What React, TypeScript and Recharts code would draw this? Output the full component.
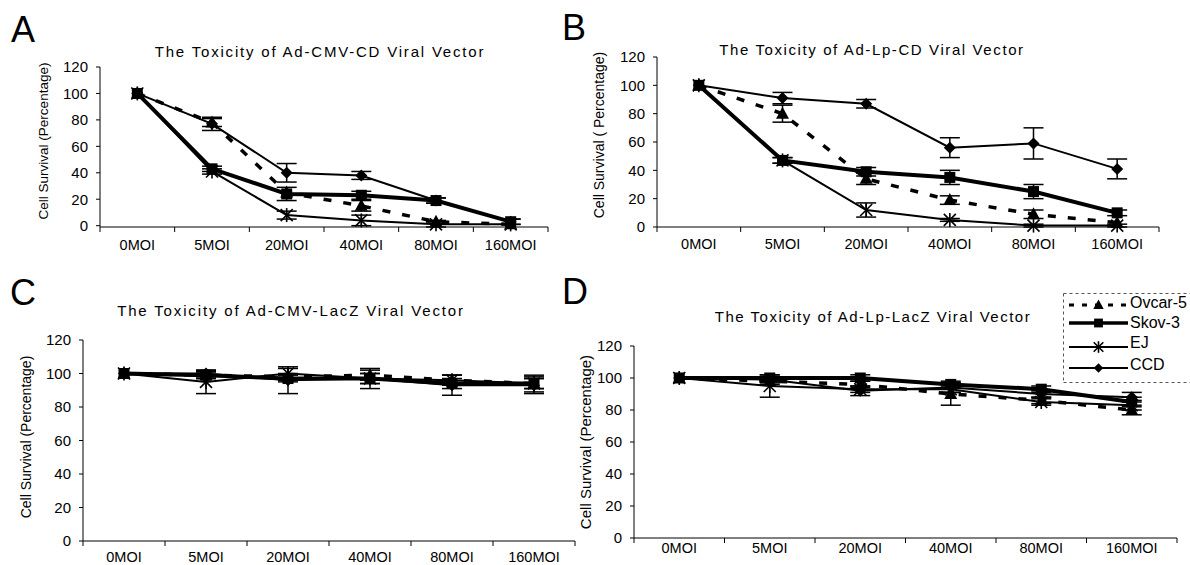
import React from 'react';
import { LineChart, Line, XAxis, YAxis, ErrorBar, Legend } from 'recharts';

const FONT = '"Liberation Sans", Arial, Helvetica, sans-serif';

const categories = ['0MOI', '5MOI', '20MOI', '40MOI', '80MOI', '160MOI'];
const yTicks = [0, 20, 40, 60, 80, 100, 120];

// Panel A: Ad-CMV-CD
const aOvcar = [100, 78, 25, 15, 3, 1];
const aOvcarErr = [0, 3, 0, 4, 1, 0];
const aSkov = [100, 43, 24, 23, 19, 3];
const aSkovErr = [0, 2, 5, 3, 2, 2];
const aEJ = [100, 41, 8, 4, 1, 1];
const aEJErr = [0, 2, 3, 4, 2, 0];
const aCCD = [100, 77, 40, 38, 19, 3];
const aCCDErr = [0, 5, 7, 3, 2, 2];

// Panel B: Ad-Lp-CD
const bOvcar = [100, 80, 34, 19, 9, 3];
const bOvcarErr = [0, 6, 4, 3, 3, 0];
const bSkov = [100, 47, 39, 35, 25, 10];
const bSkovErr = [0, 2, 3, 5, 5, 2];
const bEJ = [100, 47, 12, 5, 1, 1];
const bEJErr = [0, 2, 5, 1, 1, 1];
const bCCD = [100, 91, 87, 56, 59, 41];
const bCCDErr = [0, 4, 3, 7, 11, 7];

// Panel C: Ad-CMV-LacZ
const cOvcar = [100, 99, 98, 99, 96, 94];
const cOvcarErr = [0, 2, 2, 3, 3, 3];
const cSkov = [100, 99, 97, 97, 94, 94];
const cSkovErr = [0, 2, 2, 3, 3, 5];
const cEJ = [100, 95, 100, 97, 96, 94];
const cEJErr = [0, 7, 3, 3, 3, 3];
const cCCD = [100, 100, 96, 97, 93, 93];
const cCCDErr = [0, 2, 8, 6, 6, 5];

// Panel D: Ad-Lp-LacZ
const dOvcar = [100, 98, 96, 90, 86, 80];
const dOvcarErr = [0, 2, 2, 7, 2, 3];
const dSkov = [100, 100, 100, 96, 93, 85];
const dSkovErr = [0, 2, 2, 2, 2, 3];
const dEJ = [100, 95, 93, 93, 85, 83];
const dEJErr = [0, 7, 2, 2, 2, 3];
const dCCD = [100, 99, 92, 94, 90, 88];
const dCCDErr = [0, 2, 3, 3, 2, 3];

const SERIES = [
  { key: 'ovcar', name: 'Ovcar-5', width: 3.5, dash: '8 12', dot: 'triangle' },
  { key: 'ej', name: 'EJ', width: 2, dash: undefined, dot: 'star' },
  { key: 'ccd', name: 'CCD', width: 2, dash: undefined, dot: 'diamond' },
  { key: 'skov', name: 'Skov-3', width: 4, dash: undefined, dot: 'square' },
];
const LEGEND_ORDER = ['ovcar', 'skov', 'ej', 'ccd'];

function panelData(ov: number[], ovE: number[], sk: number[], skE: number[], ej: number[], ejE: number[], cd: number[], cdE: number[]) {
  return categories.map((cat, i) => ({
    cat,
    ovcar: ov[i], ovcarErr: ovE[i],
    skov: sk[i], skovErr: skE[i],
    ej: ej[i], ejErr: ejE[i],
    ccd: cd[i], ccdErr: cdE[i],
  }));
}

const dataA = panelData(aOvcar, aOvcarErr, aSkov, aSkovErr, aEJ, aEJErr, aCCD, aCCDErr);
const dataB = panelData(bOvcar, bOvcarErr, bSkov, bSkovErr, bEJ, bEJErr, bCCD, bCCDErr);
const dataC = panelData(cOvcar, cOvcarErr, cSkov, cSkovErr, cEJ, cEJErr, cCCD, cCCDErr);
const dataD = panelData(dOvcar, dOvcarErr, dSkov, dSkovErr, dEJ, dEJErr, dCCD, dCCDErr);

function drawMarker(shape: string, cx: number, cy: number, key: string, s = 1) {
  if (cx == null || cy == null || isNaN(cx) || isNaN(cy)) return <g key={key} />;
  switch (shape) {
    case 'triangle':
      return (
        <polygon key={key} fill="#000"
          points={`${cx},${cy - 7 * s} ${cx - 6.5 * s},${cy + 5 * s} ${cx + 6.5 * s},${cy + 5 * s}`} />
      );
    case 'square':
      return <rect key={key} x={cx - 5.5 * s} y={cy - 5.5 * s} width={11 * s} height={11 * s} fill="#000" />;
    case 'diamond':
      return (
        <polygon key={key} fill="#000"
          points={`${cx},${cy - 6 * s} ${cx + 6 * s},${cy} ${cx},${cy + 6 * s} ${cx - 6 * s},${cy}`} />
      );
    default: {
      const r = 6 * s;
      return (
        <g key={key} stroke="#000" strokeWidth={1.6}>
          <line x1={cx - r} y1={cy - r} x2={cx + r} y2={cy + r} />
          <line x1={cx - r} y1={cy + r} x2={cx + r} y2={cy - r} />
          <line x1={cx} y1={cy - r - 1} x2={cx} y2={cy + r + 1} />
        </g>
      );
    }
  }
}

function makeXTick(bw: number, labelDy: number) {
  return (props: any) => {
    const { x, y, payload } = props;
    const idx = payload && payload.index != null ? payload.index : props.index;
    return (
      <g>
        <line x1={x - bw / 2} x2={x - bw / 2} y1={y} y2={y + 5} stroke="#000" strokeWidth={1} />
        {idx === categories.length - 1 ? (
          <line x1={x + bw / 2} x2={x + bw / 2} y1={y} y2={y + 5} stroke="#000" strokeWidth={1} />
        ) : null}
        <text x={x} y={y + labelDy} textAnchor="middle" dominantBaseline="central"
          fontSize={14.5} fontFamily={FONT} fill="#000">
          {payload.value}
        </text>
      </g>
    );
  };
}

const legendRows: Record<string, { line: number; text: number }> = {
  ovcar: { line: 12, text: 9 },
  skov: { line: 30, text: 29 },
  ej: { line: 54, text: 49 },
  ccd: { line: 75, text: 71 },
};

const LegendBox = () => (
  <svg width={130} height={92} style={{ display: 'block', overflow: 'visible' }}>
    <path d="M0.5,0.5 L0.5,89.5 M0.5,0.5 L130,0.5 M0.5,89.5 L130,89.5" stroke="#555"
      strokeDasharray="3 3" strokeWidth={1} fill="none" />
    {LEGEND_ORDER.map((k) => {
      const s = SERIES.find((q) => q.key === k)!;
      const r = legendRows[k];
      return (
        <g key={k}>
          <line x1={6} x2={65} y1={r.line} y2={r.line} stroke="#000"
            strokeWidth={k === 'ovcar' ? 3 : s.width === 4 ? 3.5 : 2}
            strokeDasharray={k === 'ovcar' ? '5 8' : undefined} />
          {drawMarker(s.dot, 35.5, r.line, `lg-${k}`, 0.8)}
          <text x={67} y={r.text} fontSize={16} fontFamily={FONT} dominantBaseline="central" fill="#000">
            {s.name}
          </text>
        </g>
      );
    })}
  </svg>
);

type PanelProps = {
  data: any[];
  left: number;
  top: number;
  width: number;
  height: number;
  margin: { top: number; right: number; bottom: number; left: number };
  yAxisWidth: number;
  xAxisHeight: number;
  labelDy: number;
  legend?: boolean;
};

function Panel({ data, left, top, width, height, margin, yAxisWidth, xAxisHeight, labelDy, legend }: PanelProps) {
  const plotWidth = width - margin.left - margin.right - yAxisWidth;
  const bw = plotWidth / categories.length;
  return (
    <div style={{ position: 'absolute', left, top, width, height }}>
      <LineChart width={width} height={height} data={data} margin={margin}>
        <XAxis dataKey="cat" scale="band" interval={0} tickLine={false} tickSize={0} tickMargin={0}
          height={xAxisHeight} axisLine={{ stroke: '#000', strokeWidth: 1 }} tick={makeXTick(bw, labelDy)} />
        <YAxis type="number" domain={[0, 120]} ticks={yTicks} interval={0} width={yAxisWidth}
          tickSize={4} tickMargin={8} axisLine={{ stroke: '#000', strokeWidth: 1 }}
          tickLine={{ stroke: '#000', strokeWidth: 1 }}
          tick={{ fill: '#000', fontSize: 15, fontFamily: FONT }} />
        {SERIES.map((s) => (
          <Line key={s.key} dataKey={s.key} name={s.name} type="linear" stroke="#000"
            strokeWidth={s.width} strokeDasharray={s.dash} isAnimationActive={false}
            activeDot={false} legendType="none"
            dot={(p: any) => drawMarker(s.dot, p.cx, p.cy, `${s.key}-${p.index}`)}>
            <ErrorBar dataKey={`${s.key}Err`} width={10} strokeWidth={1.5} stroke="#000" direction="y" />
          </Line>
        ))}
        {legend ? (
          <Legend layout="vertical" align="center" verticalAlign="middle"
            wrapperStyle={{ left: 493, top: 13, width: 130, height: 92 }}
            content={() => <LegendBox />} />
        ) : null}
      </LineChart>
    </div>
  );
}

const titles = [
  { text: 'The Toxicity of Ad-CMV-CD Viral Vector', x: 320, y: 57, ls: 1.8 },
  { text: 'The Toxicity of Ad-Lp-CD Viral Vector', x: 872, y: 55, ls: 1.6 },
  { text: 'The Toxicity of Ad-CMV-LacZ Viral Vector', x: 291, y: 316, ls: 1.85 },
  { text: 'The Toxicity of Ad-Lp-LacZ Viral Vector', x: 873, y: 322, ls: 1.5 },
];
const letters = [
  { text: 'A', x: 11, y: 42 },
  { text: 'B', x: 562, y: 40 },
  { text: 'C', x: 10, y: 305 },
  { text: 'D', x: 562, y: 304 },
];
const yLabels = [
  { text: 'Cell Survival (Percentage)', x: 43, y: 141, fs: 13.5 },
  { text: 'Cell Survival ( Percentage)', x: 599, y: 135, fs: 14 },
  { text: 'Cell Survival (Percentage)', x: 26, y: 437, fs: 14 },
  { text: 'Cell Survival (Percentage)', x: 585, y: 442, fs: 15 },
];

export default function App() {
  return (
    <div style={{ position: 'absolute', left: 0, top: 0, width: 1190, height: 565, background: '#fff', overflow: 'hidden' }}>
      <Panel data={dataA} left={0} top={0} width={570} height={260}
        margin={{ top: 67, right: 22, bottom: 3, left: 0 }} yAxisWidth={100} xAxisHeight={30} labelDy={18} />
      <Panel data={dataB} left={570} top={0} width={620} height={260}
        margin={{ top: 57, right: 31, bottom: 3, left: 0 }} yAxisWidth={87} xAxisHeight={30} labelDy={17} />
      <Panel data={dataC} left={0} top={280} width={600} height={285}
        margin={{ top: 60, right: 25, bottom: 2, left: 0 }} yAxisWidth={83} xAxisHeight={22} labelDy={16} />
      <Panel data={dataD} left={570} top={280} width={620} height={285}
        margin={{ top: 66, right: 13, bottom: 2, left: 0 }} yAxisWidth={64} xAxisHeight={25} labelDy={10} legend />
      <svg width={1190} height={565} style={{ position: 'absolute', left: 0, top: 0, pointerEvents: 'none' }}>
        {titles.map((t, i) => (
          <text key={`t${i}`} x={t.x} y={t.y} textAnchor="middle" fontSize={15} fontFamily={FONT}
            letterSpacing={t.ls} fill="#000">{t.text}</text>
        ))}
        {letters.map((t, i) => (
          <text key={`l${i}`} x={t.x} y={t.y} fontSize={36} fontFamily={FONT} fill="#000">{t.text}</text>
        ))}
        {yLabels.map((t, i) => (
          <text key={`y${i}`} x={t.x} y={t.y} textAnchor="middle" dominantBaseline="central"
            fontSize={t.fs} fontFamily={FONT} fill="#000"
            transform={`rotate(-90 ${t.x} ${t.y})`}>{t.text}</text>
        ))}
      </svg>
    </div>
  );
}
